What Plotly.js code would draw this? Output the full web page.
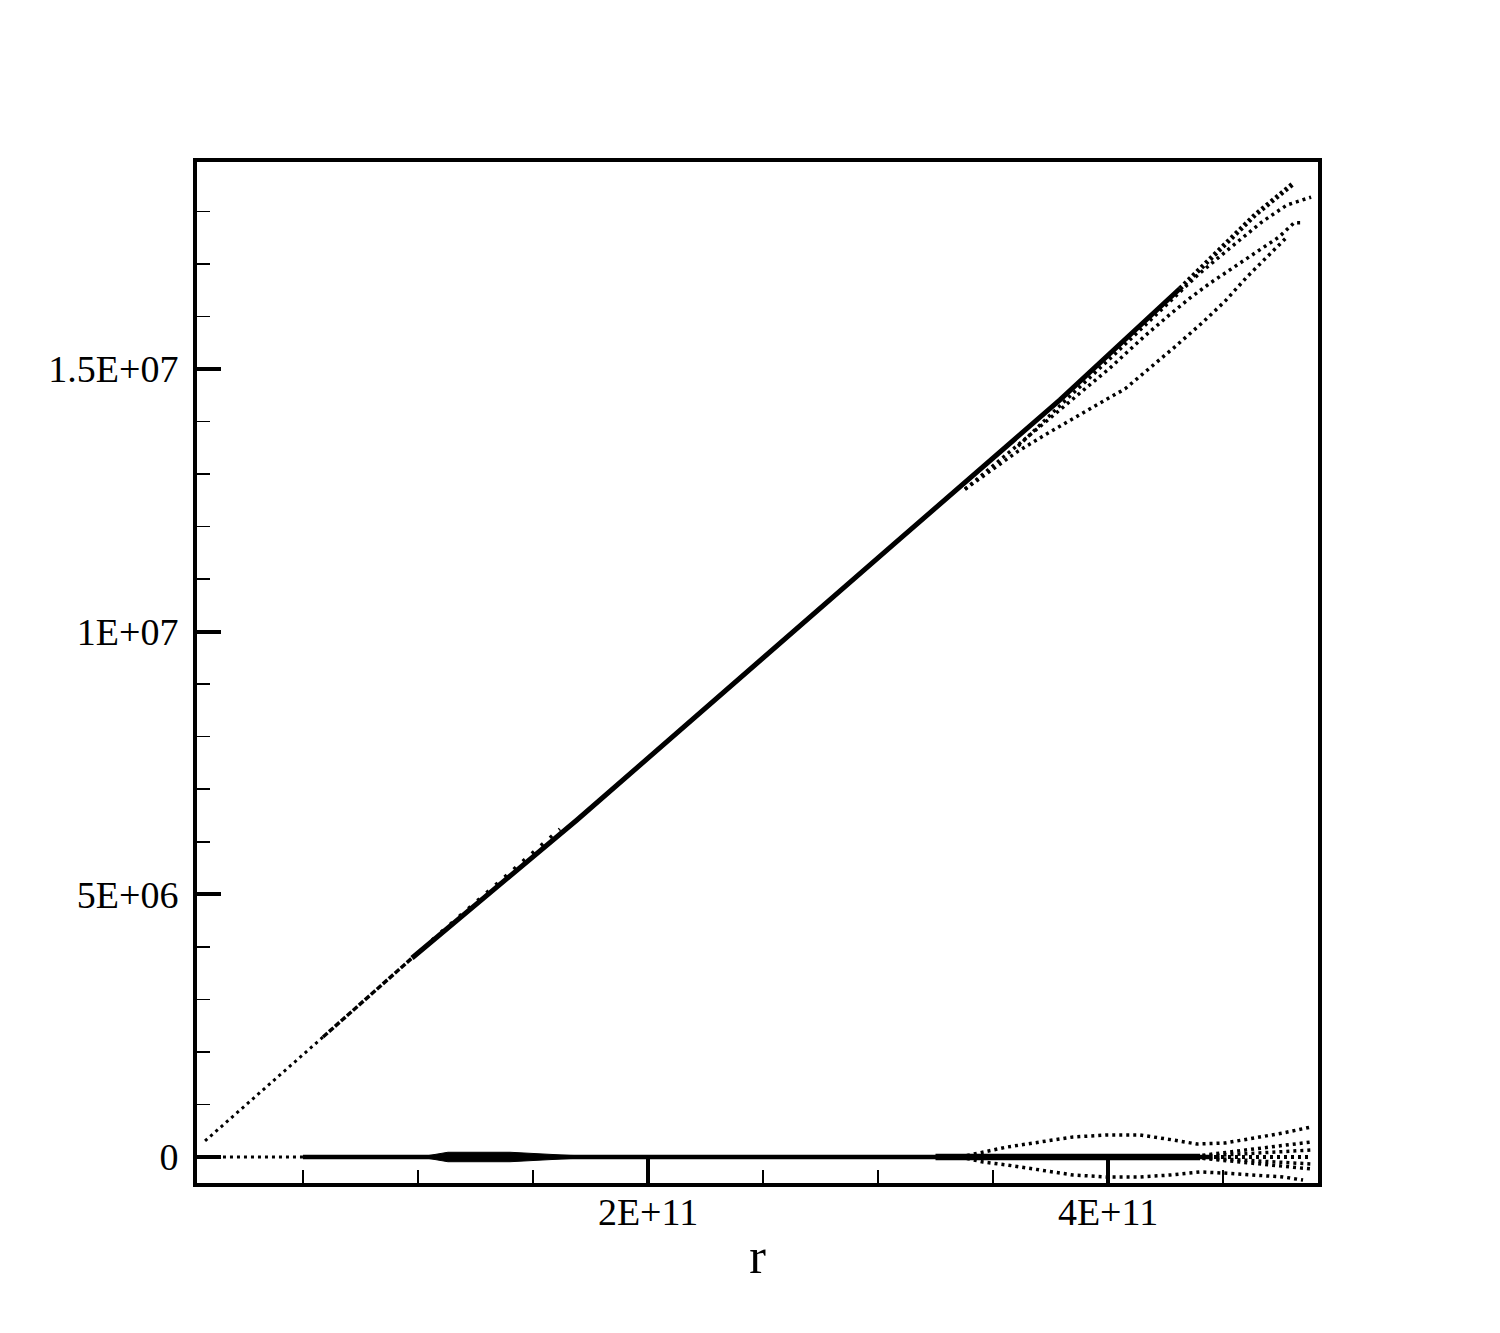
<!DOCTYPE html>
<html>
<head>
<meta charset="utf-8">
<script src="https://cdn.plot.ly/plotly-3.0.1.min.js"></script>
<style>
  html, body { margin: 0; padding: 0; background: #fff; }
  #plot { width: 1500px; height: 1333px; }
</style>
</head>
<body>
<div id="plot"></div>
<script>
// r values in 1E+11, y values in 1E+06 (scaled below)
// main diagonal branch
var rDiagLead = [0.074, 0.587];
var vDiagLead = [0.305, 2.284];
var rDiagLead2 = [0.587, 0.974];
var vDiagLead2 = [2.284, 3.787];
var rDiagMain = [0.974, 1.691, 3.065, 3.791, 4.313];
var vDiagMain = [3.787, 6.414, 11.65, 14.41, 16.53];
var rDiagTip = [4.313, 4.639, 4.809];
var vDiagTip = [16.53, 17.93, 18.54];
var rDiagBump = [1.061, 1.617];
var vDiagBump = [4.130, 6.243];

// fan-out branches near the outer edge
var rBranchB = [3.609, 3.822, 4.022, 4.391, 4.530, 4.670, 4.778, 4.883];
var vBranchB = [13.53, 14.43, 15.25, 16.79, 17.30, 17.80, 18.12, 18.27];
var rBranchC = [3.378, 3.574, 3.791, 4.009, 4.161, 4.270, 4.357, 4.443, 4.604, 4.743, 4.809, 4.848];
var vBranchC = [12.71, 13.42, 14.22, 15.02, 15.63, 16.04, 16.35, 16.63, 17.11, 17.51, 17.78, 17.78];
var rBranchD = [3.378, 3.487, 3.604, 3.717, 3.843, 3.957, 4.074, 4.178, 4.291, 4.413, 4.509, 4.604, 4.709, 4.778];
var vBranchD = [12.71, 13.06, 13.42, 13.72, 14.05, 14.33, 14.62, 15.00, 15.42, 15.89, 16.29, 16.75, 17.21, 17.51];

// branch near zero
var rZeroLead = [0.152, 0.5];
var rZeroMain = [0.5, 4.45];
var rZeroCore = [3.25, 4.40];
var rZeroTail = [4.40, 4.883];
var rBlob = [1.009, 1.130, 1.400, 1.661, 1.965];
var vBlobUp = [0, 0.09, 0.09, 0.03, 0];
var vBlobDown = [0, -0.09, -0.09, -0.03, 0];
var rUpper = [3.357, 3.457, 3.561, 3.704, 3.848, 3.996, 4.139, 4.283, 4.387, 4.509, 4.639, 4.761, 4.883];
var vUpper = [0, 0.095, 0.190, 0.285, 0.381, 0.419, 0.419, 0.324, 0.247, 0.266, 0.362, 0.457, 0.571];
var rLower = [3.357, 3.457, 3.561, 3.704, 3.848, 3.996, 4.139, 4.270, 4.400, 4.500, 4.639, 4.761, 4.848];
var vLower = [0, -0.095, -0.152, -0.247, -0.343, -0.381, -0.381, -0.343, -0.285, -0.305, -0.343, -0.381, -0.438];
var rInner = [4.35, 4.883];
var vInner1 = [0, 0.285];
var vInner2 = [0, 0.133];
var vInner3 = [0, -0.133];
var vInner4 = [0, -0.228];

var xTickVals = [2e11, 4e11];
var xTickText = ['2E+11', '4E+11'];
var yTickVals = [0, 5e6, 1e7, 1.5e7];
var yTickText = ['0', '5E+06', '1E+07', '1.5E+07'];

function sx(a) { return a.map(function (v) { return v * 1e11; }); }
function sy(a) { return a.map(function (v) { return v * 1e6; }); }
function zeros(a) { return a.map(function () { return 0; }); }

function trace(r, v, width, dash) {
    return {
        x: sx(r), y: sy(v), mode: 'lines', type: 'scatter',
        line: { color: '#000', width: width, dash: dash || 'solid' },
        hoverinfo: 'skip'
    };
}

var dots = '3px,4px';
var blob = {
    x: sx(rBlob.concat(rBlob.slice().reverse())),
    y: sy(vBlobUp.concat(vBlobDown.slice().reverse())),
    mode: 'lines', type: 'scatter', fill: 'toself', fillcolor: '#000',
    line: { color: '#000', width: 1 }, hoverinfo: 'skip'
};

var data = [
    trace(rDiagLead, vDiagLead, 3, dots),
    trace(rDiagLead2, vDiagLead2, 3.5, '6px,2px'),
    trace(rDiagMain, vDiagMain, 5, 'solid'),
    trace(rDiagTip, vDiagTip, 5, '3px,3px'),
    trace(rDiagBump, vDiagBump, 3.5, '3px,9px'),
    trace(rBranchB, vBranchB, 3.5, dots),
    trace(rBranchC, vBranchC, 3.5, dots),
    trace(rBranchD, vBranchD, 3.5, dots),
    trace(rZeroLead, zeros(rZeroLead), 3, dots),
    trace(rZeroMain, zeros(rZeroMain), 4.5, 'solid'),
    trace(rZeroCore, zeros(rZeroCore), 6.5, 'solid'),
    trace(rZeroTail, zeros(rZeroTail), 4, dots),
    blob,
    trace(rUpper, vUpper, 3.5, dots),
    trace(rLower, vLower, 3.5, dots),
    trace(rInner, vInner1, 3.5, dots),
    trace(rInner, vInner2, 3.5, dots),
    trace(rInner, vInner3, 3.5, dots),
    trace(rInner, vInner4, 3.5, dots)
];

var tickFont = { family: 'Liberation Serif, Times New Roman, serif', size: 38, color: '#000' };

var layout = {
    width: 1500,
    height: 1333,
    paper_bgcolor: '#fff',
    plot_bgcolor: '#fff',
    showlegend: false,
    margin: { l: 197, r: 182, t: 162, b: 150 },
    xaxis: {
        range: [0.0391e11, 4.913e11],
        showline: true, linewidth: 4, linecolor: '#000', mirror: true,
        showgrid: false, zeroline: false,
        ticks: 'inside', ticklen: 26, tickwidth: 4, tickcolor: '#000',
        tickmode: 'array', tickvals: xTickVals, ticktext: xTickText,
        minor: { ticks: 'inside', ticklen: 13, tickwidth: 1.5, tickcolor: '#000', dtick: 0.5e11, tick0: 0 },
        tickfont: tickFont,
        ticklabelstandoff: -8,
        title: { text: 'r', font: { family: 'Liberation Serif, Times New Roman, serif', size: 50, color: '#000' }, standoff: 7 }
    },
    yaxis: {
        range: [-0.495e6, 18.938e6],
        showline: true, linewidth: 4, linecolor: '#000', mirror: true,
        showgrid: false, zeroline: false,
        ticks: 'inside', ticklen: 24, tickwidth: 4, tickcolor: '#000',
        tickmode: 'array', tickvals: yTickVals, ticktext: yTickText,
        minor: { ticks: 'inside', ticklen: 13, tickwidth: 1.5, tickcolor: '#000', dtick: 1e6, tick0: 0 },
        tickfont: tickFont,
        ticklabelstandoff: 7
    }
};

Plotly.newPlot('plot', data, layout, { displayModeBar: false, staticPlot: true });
</script>
</body>
</html>
